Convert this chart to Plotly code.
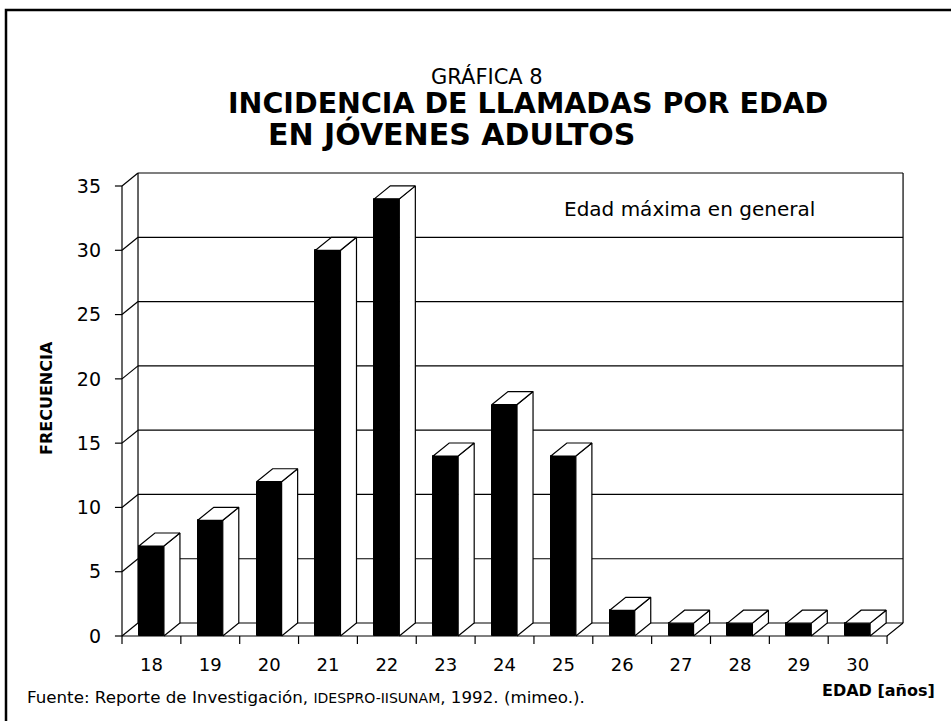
import plotly.graph_objects as go

# data
edades = ["18", "19", "20", "21", "22", "23", "24", "25", "26", "27", "28", "29", "30"]
frecuencia = [7, 9, 12, 30, 34, 14, 18, 14, 2, 1, 1, 1, 1]
y_ticks = [0, 5, 10, 15, 20, 25, 30, 35]

# pseudo-3d geometry (data units)
DX, DY = 0.272, 1.01      # depth offset of back wall / bar depth
BW = 0.425                # bar front width
TICK_Y = 0.62             # length of x tick marks below floor
TICK_X = 0.12             # length of y tick marks
n = len(edades)
x_lo, x_hi = -0.5, n - 0.5
ymax = y_ticks[-1]

# page layout (pixels)
W, H = 951, 721
ML, MR, MT, MB = 111, 45, 169, 75
PW, PH = W - ML - MR, H - MT - MB


def px(x):
    return (x - ML) / PW


def py(y):
    return (H - MB - y) / PH


fig = go.Figure()

# --- back wall, left wall and floor ---
gx, gy = [], []
for v in y_ticks:
    gx += [x_lo + DX, x_hi + DX, None]
    gy += [v + DY, v + DY, None]
    gx += [x_lo, x_lo + DX, None]
    gy += [v, v + DY, None]
    gx += [x_lo - TICK_X, x_lo, None]
    gy += [v, v, None]
for xv in (x_lo + DX, x_hi + DX):
    gx += [xv, xv, None]
    gy += [DY, ymax + DY, None]
gx += [x_lo, x_lo, None, x_lo, x_hi, x_hi + DX, None]
gy += [0, ymax, None, 0, 0, DY, None]
for i in range(n + 1):
    gx += [x_lo + i, x_lo + i, None]
    gy += [0, -TICK_Y, None]
fig.add_trace(go.Scatter(x=gx, y=gy, mode="lines", line=dict(color="black", width=1.2),
                         hoverinfo="skip", showlegend=False))

# --- bars: front faces ---
fig.add_trace(go.Bar(x=list(range(n)), y=frecuencia, width=BW, base=0,
                     marker=dict(color="black", line=dict(color="black", width=1)),
                     showlegend=False))

# --- bars: side and top faces ---
sx, sy, tx, ty = [], [], [], []
for i, v in enumerate(frecuencia):
    a, b = i - BW / 2, i + BW / 2
    sx += [b, b + DX, b + DX, b, b, None]
    sy += [0, DY, v + DY, v, 0, None]
    tx += [a, b, b + DX, a + DX, a, None]
    ty += [v, v, v + DY, v + DY, v, None]
for xs, ys in ((sx, sy), (tx, ty)):
    fig.add_trace(go.Scatter(x=xs, y=ys, mode="lines", fill="toself", fillcolor="white",
                             line=dict(color="black", width=1.2), hoverinfo="skip",
                             showlegend=False))

FONT = "DejaVu Sans"
ann = [
    dict(text="GRÁFICA 8", x=px(487), y=py(77), xanchor="center", font=dict(size=21)),
    dict(text="<b>INCIDENCIA DE LLAMADAS POR EDAD</b>", x=px(226), y=py(103),
         xanchor="left", font=dict(size=28.5)),
    dict(text="<b>EN JÓVENES ADULTOS</b>", x=px(266), y=py(134), xanchor="left",
         font=dict(size=30)),
    dict(text="Edad máxima en general", x=px(562), y=py(209), xanchor="left",
         font=dict(size=20)),
    dict(text="<b>FRECUENCIA</b>", x=px(46), y=py(398), xanchor="center", textangle=-90,
         font=dict(size=16)),
    dict(text="<b>EDAD [años]</b>", x=px(937), y=py(690), xanchor="right",
         font=dict(size=16)),
    dict(text='Fuente: Reporte de Investigación, <span style="font-size:14px">'
              'IDESPRO-IISUNAM</span>, 1992. (mimeo.).',
         x=px(25), y=py(697), xanchor="left", font=dict(size=16.7)),
]
for a in ann:
    a.update(xref="paper", yref="paper", yanchor="middle", showarrow=False)
    a["font"].update(family=FONT, color="black")

fig.update_layout(
    width=W, height=H,
    margin=dict(l=ML, r=MR, t=MT, b=MB),
    paper_bgcolor="white", plot_bgcolor="white",
    font=dict(family=FONT, color="black", size=17),
    annotations=ann,
    shapes=[dict(type="rect", xref="paper", yref="paper", x0=px(6), y0=py(10),
                 x1=px(W + 20), y1=py(H + 20), line=dict(color="black", width=2.5))],
    xaxis=dict(range=[x_lo - 11 / 58.85, x_lo - 11 / 58.85 + PW / 58.85],
               tickvals=list(range(n)), ticktext=edades, ticks="", showgrid=False,
               zeroline=False, showline=False, ticklabelstandoff=6,
               tickfont=dict(size=18)),
    yaxis=dict(range=[-10 / 12.857, -10 / 12.857 + PH / 12.857], tickvals=y_ticks,
               ticks="", showgrid=False, zeroline=False, showline=False,
               ticklabelstandoff=9, tickfont=dict(size=19)),
    bargap=0,
)

fig.write_html("out.html",
               config={"displayModeBar": False},
               post_script="document.body.style.margin='0';"
                           "document.body.style.overflow='hidden';")
